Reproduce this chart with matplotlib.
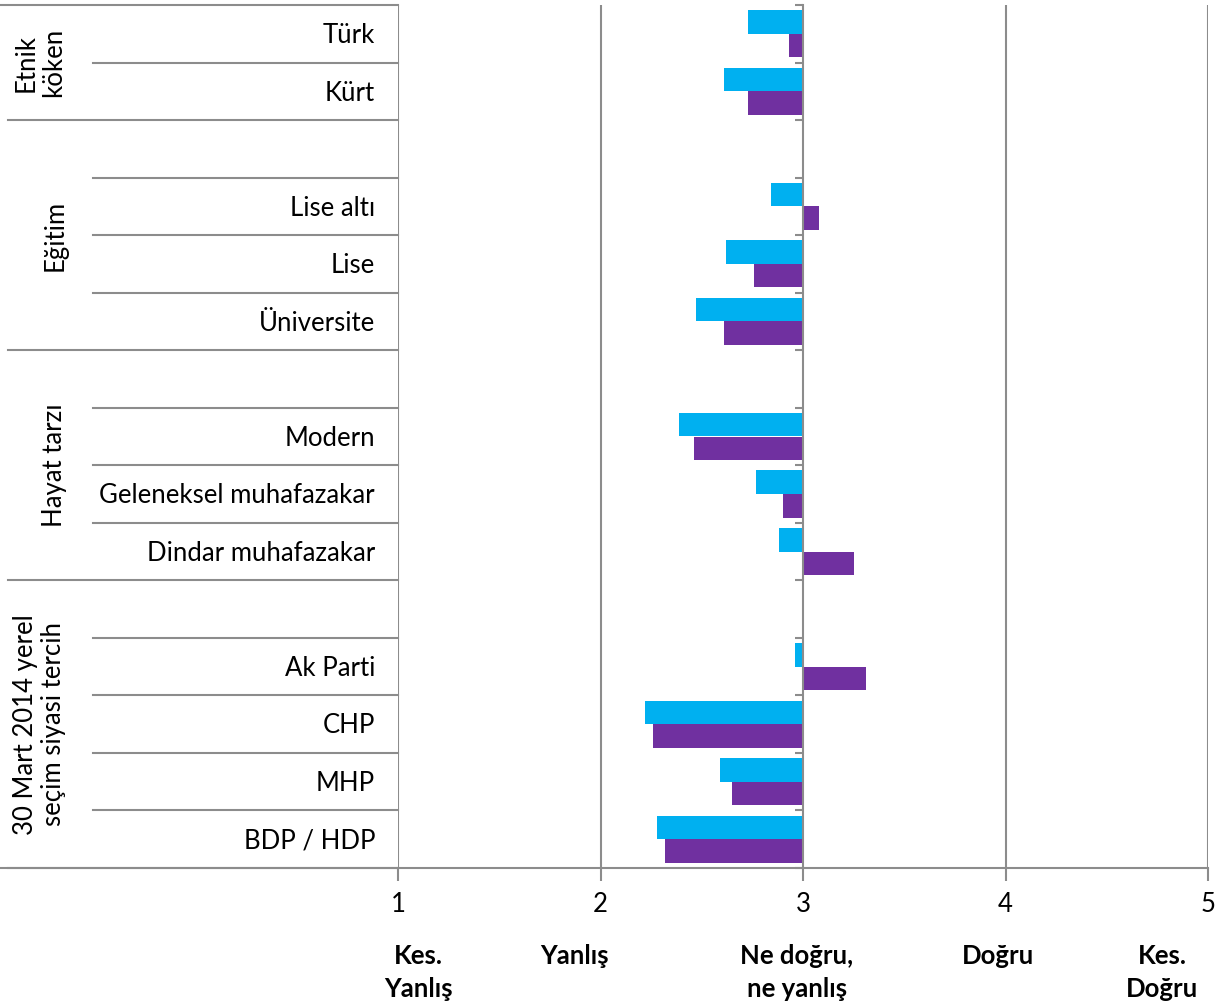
import matplotlib
matplotlib.use("Agg")
import matplotlib.pyplot as plt
import matplotlib.transforms as mtransforms

plt.rcParams["font.family"] = ["Lato", "DejaVu Sans"]

# rows from top to bottom ("" = empty spacer row)
categories = ["Türk", "Kürt", "", "Lise altı", "Lise", "Üniversite", "",
              "Modern", "Geleneksel muhafazakar", "Dindar muhafazakar", "",
              "Ak Parti", "CHP", "MHP", "BDP / HDP"]
series_a = [2.73, 2.61, None, 2.84, 2.62, 2.47, None,
            2.39, 2.77, 2.88, None, 2.96, 2.22, 2.59, 2.28]
series_b = [2.93, 2.73, None, 3.08, 2.76, 2.61, None,
            2.46, 2.90, 3.25, None, 3.31, 2.26, 2.65, 2.32]
groups = ["Etnik\nköken", "Eğitim", "Hayat tarzı", "30 Mart 2014 yerel\nseçim siyasi tercih"]
group_spans = [(0, 1), (2, 5), (6, 9), (10, 14)]
scale_ticks = [1, 2, 3, 4, 5]
scale_labels = ["Kes.\nYanlış", "Yanlış", "Ne doğru,\nne yanlış", "Doğru", "Kes.\nDoğru"]

CYAN = "#00B0F0"
PURPLE = "#7030A0"
GRID = "#8c8c8c"
FS = 18.5

W, H = 1227, 1007
fig = plt.figure(figsize=(W / 100, H / 100), dpi=100)
ax = fig.add_axes([398 / W, 1 - 868 / H, 810 / W, 863 / H])

base = 3
bh = 0.41
for i, (a, b) in enumerate(zip(series_a, series_b)):
    if a is not None:
        ax.barh(i - bh / 2, a - base, left=base, height=bh, color=CYAN, zorder=3)
    if b is not None:
        ax.barh(i + bh / 2, b - base, left=base, height=bh, color=PURPLE, zorder=3)

ax.set_xlim(1, 5)
ax.set_ylim(14.5, -0.5)

for v in [1, 2, 4, 5]:
    ax.axvline(v, color=GRID, lw=1.5, zorder=1)

for s in ["top", "right"]:
    ax.spines[s].set_visible(False)
ax.spines["left"].set_position(("data", 3))
ax.spines["left"].set_color(GRID)
ax.spines["left"].set_linewidth(1.5)
ax.spines["left"].set_zorder(4)
ax.spines["bottom"].set_color(GRID)
ax.spines["bottom"].set_linewidth(1.5)

ax.set_yticks([k - 0.5 for k in range(16)])
ax.set_yticklabels([])
ax.tick_params(axis="y", length=6, width=1.5, color=GRID, direction="out")
ax.set_xticks(scale_ticks)
ax.set_xticklabels([str(t) for t in scale_ticks], fontsize=FS)
ax.tick_params(axis="x", length=9, width=1.5, color=GRID, pad=8)

# left label panel
tr = mtransforms.blended_transform_factory(ax.transAxes, ax.transData)
x_grp = (8 - 398) / 810
x_cat = (93 - 398) / 810
group_bounds = [-0.5, 1.5, 5.5, 9.5, 14.5]
for k in range(16):
    y = k - 0.5
    x0 = x_grp if y in group_bounds else x_cat
    if y == -0.5:
        x0 = -398 / 810
    ax.plot([x0, 0], [y, y], color=GRID, lw=1.5, transform=tr, clip_on=False)
ax.plot([-398 / 810, 0], [14.5, 14.5], color=GRID, lw=1.5, transform=tr, clip_on=False)

for i, c in enumerate(categories):
    if c:
        ax.text((375 - 398) / 810, i + 0.03, c, transform=tr, ha="right", va="center", fontsize=FS)

group_x = [40, 55, 55, 40]
for g, (s, e), gx in zip(groups, group_spans, group_x):
    ax.text((gx - 398) / 810, (s + e) / 2, g, transform=tr, rotation=90,
            ha="center", va="center", fontsize=FS, linespacing=1.15, multialignment="center")

label_x = [418, 574, 797, 998, 1162]
for lx, lab in zip(label_x, scale_labels):
    fig.text(lx / W, 1 - 944 / H, lab, ha="center", va="top", fontsize=FS,
             fontweight="bold", linespacing=1.45)

fig.savefig("out.png", dpi=100)
